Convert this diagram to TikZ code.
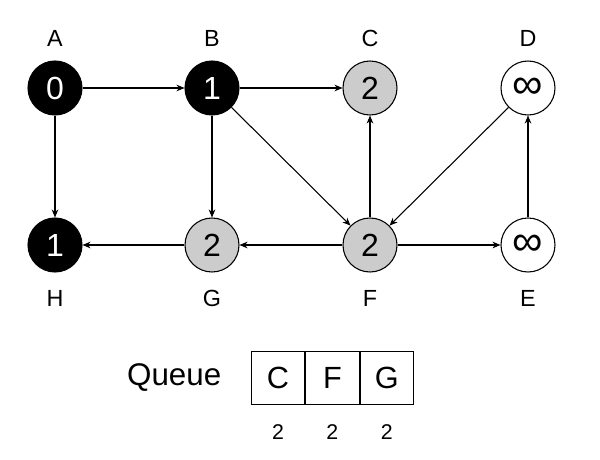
\documentclass[tikz,border=0pt]{standalone}
\usepackage{fontspec}
\setmainfont{Liberation Sans}
\usetikzlibrary{arrows.meta,positioning}
\tikzset{main node/.style={circle,draw,line width=0.8pt,minimum size=40.5pt,inner sep=0pt,font=\fontsize{24}{26}\selectfont},
         done node/.style={main node,fill=black,text=white},
         open node/.style={main node,fill=black!20},
         inf node/.style={main node,font=\fontsize{32}{34}\selectfont},
         vertex label/.style={inner sep=0pt,font=\fontsize{17.5}{19}\selectfont},
         queue cell/.style={rectangle,draw,line width=0.8pt,minimum width=40pt,minimum height=40pt,inner sep=0pt,font=\fontsize{23}{25}\selectfont},
         dist label/.style={inner sep=0pt,font=\fontsize{16}{18}\selectfont},
         edge/.style={-{Stealth[length=6pt,width=5pt]},line width=0.8pt},
}
\begin{document}
\begin{tikzpicture}[x=0.75pt,y=-0.75pt]

\useasboundingbox (0,0) rectangle (600,460);

% vertices
\node[done node] (A) at (55,88) {0};
\node[done node] (B) at (212,88) {1};
\node[open node] (C) at (370,88) {2};
\node[inf node] (D) at (528,88) {∞};
\node[done node] (H) at (55,245) {1};
\node[open node] (G) at (212,245) {2};
\node[open node] (F) at (370,245) {2};
\node[inf node] (E) at (528,245) {∞};

% names
\node[vertex label,above=10pt of A] (lA) {A};
\node[vertex label,above=10pt of B] (lB) {B};
\node[vertex label,above=10pt of C] (lC) {C};
\node[vertex label,above=10pt of D] (lD) {D};
\node[vertex label,below=13pt of H] (lH) {H};
\node[vertex label,below=13pt of G] (lG) {G};
\node[vertex label,below=13pt of F] (lF) {F};
\node[vertex label,below=13pt of E] (lE) {E};

% edges
\draw[edge] (A) -- (B);
\draw[edge] (B) -- (C);
\draw[edge] (A) -- (H);
\draw[edge] (B) -- (G);
\draw[edge] (B) -- (F);
\draw[edge] (F) -- (C);
\draw[edge] (D) -- (F);
\draw[edge] (F) -- (G);
\draw[edge] (G) -- (H);
\draw[edge] (F) -- (E);
\draw[edge] (E) -- (D);

% queue
\node[queue cell] (q1) at (278,378) {C};
\node[queue cell,right=0pt of q1] (q2) {F};
\node[queue cell,right=0pt of q2] (q3) {G};
\node[inner sep=0pt,font=\fontsize{23.5}{25}\selectfont,left=22pt of q1] (queue) {Queue};
\node[dist label,below=14pt of q1] (d1) {2};
\node[dist label,below=14pt of q2] (d2) {2};
\node[dist label,below=14pt of q3] (d3) {2};
\end{tikzpicture}
\end{document}
